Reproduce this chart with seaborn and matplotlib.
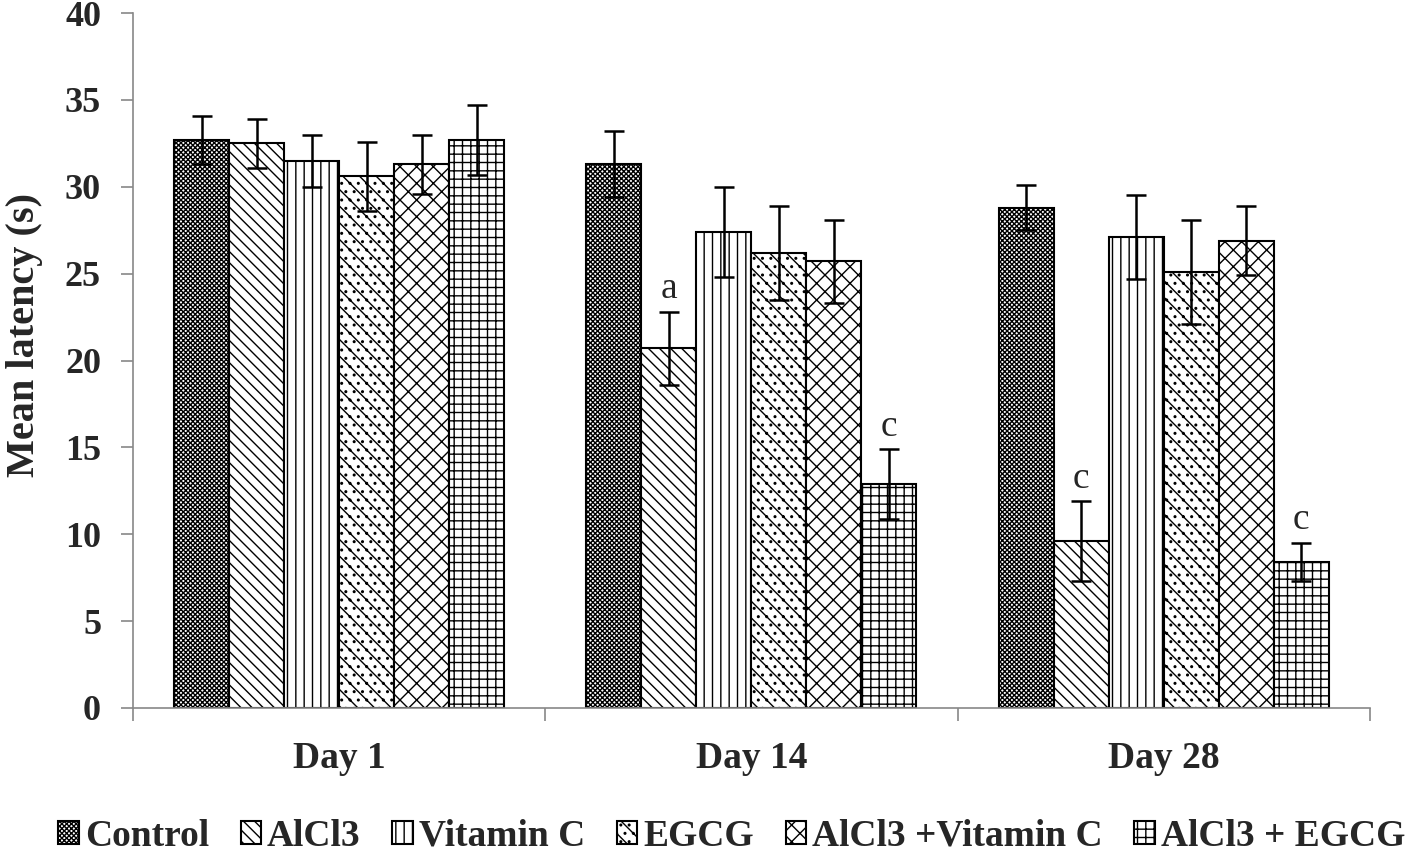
import pandas as pd
import matplotlib.pyplot as plt
import seaborn as sns

# --- data ---
days = ['Day 1', 'Day 14', 'Day 28']
groups = ['Control', 'AlCl3', 'Vitamin C', 'EGCG', 'AlCl3 +Vitamin C', 'AlCl3 + EGCG']

control = [32.7, 31.3, 28.8]
alcl3 = [32.5, 20.7, 9.6]
vitamin_c = [31.5, 27.4, 27.1]
egcg = [30.6, 26.2, 25.1]
alcl3_vitc = [31.3, 25.7, 26.9]
alcl3_egcg = [32.7, 12.9, 8.4]

control_sd = [1.4, 1.9, 1.3]
alcl3_sd = [1.4, 2.1, 2.3]
vitamin_c_sd = [1.5, 2.6, 2.4]
egcg_sd = [2.0, 2.7, 3.0]
alcl3_vitc_sd = [1.7, 2.4, 2.0]
alcl3_egcg_sd = [2.0, 2.0, 1.1]

# significance letters: (group, day, letter)
letters = [('AlCl3', 'Day 14', 'a'), ('AlCl3 + EGCG', 'Day 14', 'c'),
           ('AlCl3', 'Day 28', 'c'), ('AlCl3 + EGCG', 'Day 28', 'c')]

means = [control, alcl3, vitamin_c, egcg, alcl3_vitc, alcl3_egcg]
sds = [control_sd, alcl3_sd, vitamin_c_sd, egcg_sd, alcl3_vitc_sd, alcl3_egcg_sd]
hatches = ['xxxxxxx', '\\\\\\', '||', '..\\\\', 'xx', '++']

rows = []
for g, m, s in zip(groups, means, sds):
    for d, v, e in zip(days, m, s):
        rows.append({'Day': d, 'Group': g, 'Latency': v, 'SD': e})
df = pd.DataFrame(rows)

# --- style ---
sns.set_style("ticks")
plt.rcParams['font.family'] = ['Liberation Serif', 'DejaVu Serif']
plt.rcParams['font.weight'] = 'bold'
plt.rcParams['hatch.linewidth'] = 1.0

fig = plt.figure(figsize=(14.18, 8.56), dpi=100)
ax = fig.add_axes([0.0938, 0.1729, 0.8722, 0.8119])

sns.barplot(
    data=df, x='Day', y='Latency', hue='Group',
    order=days, hue_order=groups,
    palette=['white'] * len(groups),
    edgecolor='black', linewidth=1.5,
    errorbar=None, ax=ax
)

# hatches + error bars per group
for cont, g, h in zip(ax.containers, groups, hatches):
    sub = df[df['Group'] == g].set_index('Day').loc[days]
    xs = []
    for p in cont.patches:
        p.set_hatch(h)
        xs.append(p.get_x() + p.get_width() / 2)
    ax.errorbar(xs, sub['Latency'], yerr=sub['SD'], fmt='none',
                ecolor='black', elinewidth=1.8, capsize=7, capthick=1.8, zorder=5)
    for d, x in zip(days, xs):
        for lg, ld, lt in letters:
            if lg == g and ld == d:
                top = sub.loc[d, 'Latency'] + sub.loc[d, 'SD']
                ax.annotate(lt, (x, top), xytext=(0, 4), textcoords='offset points',
                            ha='center', va='bottom', fontsize=27, fontweight='normal')

ax.set_ylim(0, 40)
ax.set_xlim(-0.5, 2.5)
ax.set_yticks(range(0, 41, 5))
ax.set_xlabel('')
ax.set_ylabel('Mean latency (s)', fontsize=29, fontweight='bold')
ax.yaxis.set_label_coords(-0.073, 0.537)

# x ticks at the category boundaries
ax.set_xticks([-0.5, 0.5, 1.5, 2.5], minor=True)
ax.tick_params(axis='x', which='major', length=0, pad=24, labelsize=27)
ax.tick_params(axis='x', which='minor', length=9, width=1.2, color='#888888')
ax.tick_params(axis='y', length=9, width=1.2, color='#888888', pad=14, labelsize=26)
for lbl in ax.get_xticklabels() + ax.get_yticklabels():
    lbl.set_fontweight('bold')

sns.despine(ax=ax)
for side in ['left', 'bottom']:
    ax.spines[side].set_color('#888888')
    ax.spines[side].set_linewidth(1.2)

ax.get_legend().remove()
fig.legend(ax.containers, groups, loc='lower center', bbox_to_anchor=(0.516, -0.037),
           ncol=6, frameon=False, handlelength=0.55, handleheight=0.55,
           handletextpad=0.15, columnspacing=0.85, prop={'weight': 'bold', 'size': 27})

plt.savefig('out.png', dpi=100)
